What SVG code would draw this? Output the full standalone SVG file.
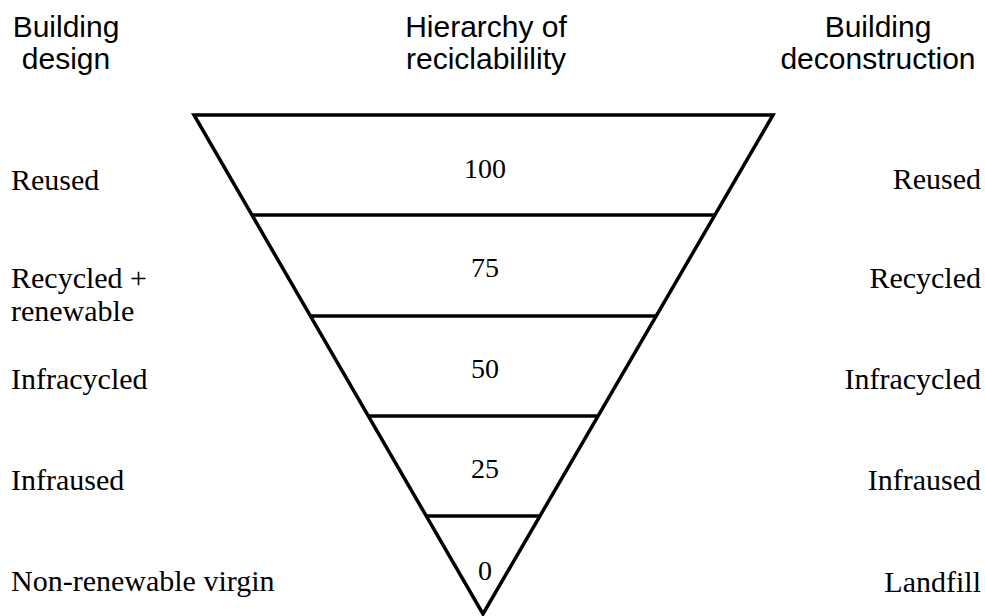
<svg xmlns="http://www.w3.org/2000/svg" width="985" height="616" viewBox="0 0 985 616">
<style>
.hdr{font-family:"Liberation Sans",Arial,sans-serif;font-size:30px;fill:#000}
.lbl{font-family:"Liberation Serif","Times New Roman",serif;font-size:30px;fill:#000}
.num{font-family:"Liberation Serif","Times New Roman",serif;font-size:28px;fill:#000;text-anchor:middle}
.edge{fill:none;stroke:#000;stroke-width:3.5;stroke-linejoin:miter}
.sep{stroke:#000;stroke-width:3.5}
</style>
<rect width="985" height="616" fill="#fff"/>
<g id="headers">
<text class="hdr" x="66" y="37" text-anchor="middle">Building</text>
<text class="hdr" x="66" y="69" text-anchor="middle">design</text>
<text class="hdr" x="486" y="37" text-anchor="middle">Hierarchy of</text>
<text class="hdr" x="486" y="69" text-anchor="middle">reciclabilility</text>
<text class="hdr" x="878" y="37" text-anchor="middle">Building</text>
<text class="hdr" x="878" y="69" text-anchor="middle">deconstruction</text>
</g>
<g id="pyramid">
<polygon class="edge" points="194,115 773,115 483,614"/>
<g id="connectors">
<line class="sep" x1="252" y1="215" x2="715" y2="215"/>
<line class="sep" x1="310" y1="316" x2="656" y2="316"/>
<line class="sep" x1="368" y1="416" x2="598" y2="416"/>
<line class="sep" x1="426" y1="516" x2="540" y2="516"/>
</g>
<text class="num" x="485" y="178">100</text>
<text class="num" x="485" y="277">75</text>
<text class="num" x="485" y="378">50</text>
<text class="num" x="485" y="478">25</text>
<text class="num" x="485" y="580">0</text>
</g>
<g id="design-labels">
<text class="lbl" x="11" y="190">Reused</text>
<text class="lbl" x="11" y="288">Recycled +</text>
<text class="lbl" x="11" y="321">renewable</text>
<text class="lbl" x="11" y="389">Infracycled</text>
<text class="lbl" x="11" y="490">Infraused</text>
<text class="lbl" x="11" y="591">Non-renewable virgin</text>
</g>
<g id="deconstruction-labels" text-anchor="end">
<text class="lbl" x="981" y="189">Reused</text>
<text class="lbl" x="981" y="288">Recycled</text>
<text class="lbl" x="981" y="389">Infracycled</text>
<text class="lbl" x="981" y="490">Infraused</text>
<text class="lbl" x="981" y="592">Landfill</text>
</g>
</svg>
